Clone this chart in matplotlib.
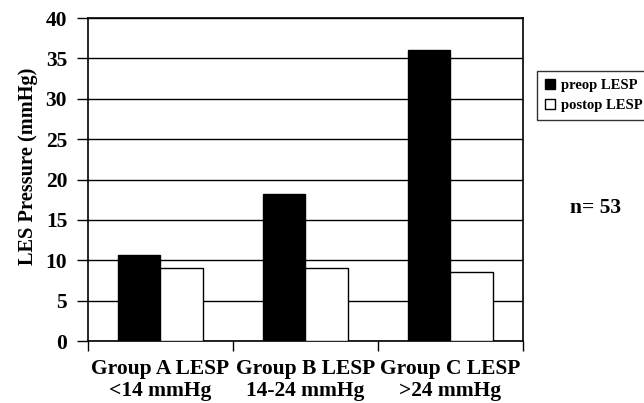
import numpy as np
import matplotlib.pyplot as plt

# LES pressure before and after surgery, per group
groups = ['Group A LESP\n<14 mmHg', 'Group B LESP\n14-24 mmHg', 'Group C LESP\n>24 mmHg']
preop = [10.7, 18.2, 36.0]
postop = [9.1, 9.1, 8.5]
yticks = [0, 5, 10, 15, 20, 25, 30, 35, 40]

plt.rcParams['font.family'] = ['Liberation Serif', 'DejaVu Serif']
plt.rcParams['font.weight'] = 'bold'

fig = plt.figure(figsize=(6.44, 4.03), dpi=100)
ax = fig.add_axes([0.1366, 0.1538, 0.812 - 0.1366, 0.9553 - 0.1538])

x = np.arange(len(groups))
w = 0.296
ax.bar(x - w / 2, preop, w, color='black', edgecolor='black', linewidth=1,
       label='preop LESP', zorder=3)
ax.bar(x + w / 2, postop, w, color='white', edgecolor='black', linewidth=1,
       label='postop LESP', zorder=3)

ax.set_xlim(-0.5, 2.5)
ax.set_ylim(0, 40)
ax.set_yticks(yticks)
ax.set_yticklabels([str(t) for t in yticks], fontsize=15.5, fontweight='bold')
ax.yaxis.grid(True, color='black', linewidth=1)
ax.set_axisbelow(True)

# category labels centred, tick marks on boundaries
ax.set_xticks([-0.5, 0.5, 1.5, 2.5])
ax.set_xticklabels([])
ax.set_xticks(x, minor=True)
ax.set_xticklabels(groups, minor=True, fontsize=15.5, fontweight='bold',
                   linespacing=1.1)
ax.tick_params(axis='x', which='minor', length=0, pad=13)
ax.tick_params(axis='x', which='major', length=7, width=1, direction='out')
ax.tick_params(axis='y', length=8, width=1, direction='out', pad=7)

for s in ax.spines.values():
    s.set_linewidth(1.2)
    s.set_color('black')

# y label sits a bit above the axes centre in the original
fig.text(28 / 644, 1 - 166 / 403, 'LES Pressure (mmHg)', fontsize=14.7,
         fontweight='bold', rotation=90, ha='center', va='center')

leg = fig.legend(loc='upper left', bbox_to_anchor=(530 / 644, 1 - 64 / 403),
                 fontsize=10.5, frameon=True, fancybox=False, edgecolor='black',
                 handlelength=0.7, handleheight=0.7, handletextpad=0.4,
                 borderpad=0.5, labelspacing=0.5)
leg.get_frame().set_linewidth(1)
for t in leg.get_texts():
    t.set_fontweight('bold')

fig.text(595 / 644, 1 - 208 / 403, 'n= 53', fontsize=15.5, fontweight='bold',
         ha='center', va='center')

fig.savefig('out.png', dpi=100)
